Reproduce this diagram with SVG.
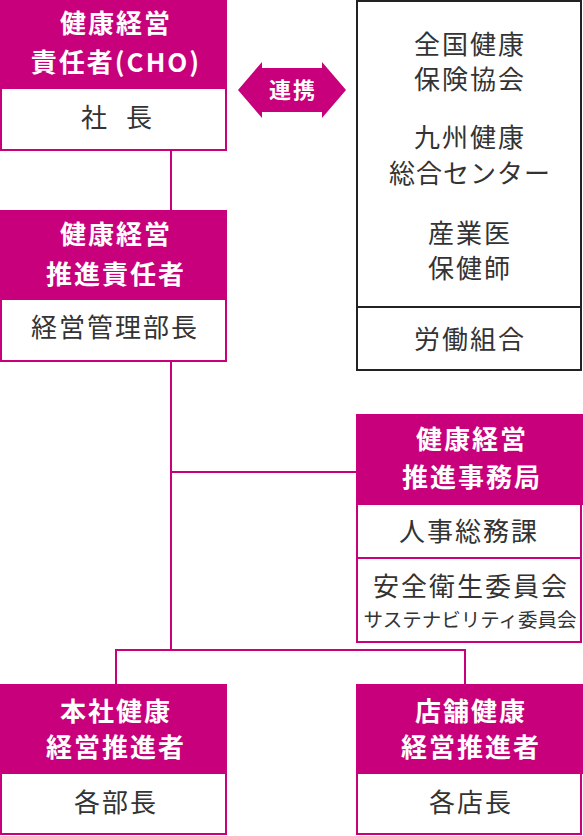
<svg xmlns="http://www.w3.org/2000/svg" width="583" height="836" viewBox="0 0 583 836">
<style>
.box{fill:#fff;stroke:#C8007B;stroke-width:2}
.hd{fill:#C8007B}
.ht{font-family:"Noto Sans CJK JP","Noto Sans",sans-serif;font-weight:bold;font-size:26px;fill:#fff;text-anchor:middle;letter-spacing:2px}
.bt{font-family:"Noto Sans CJK JP","Noto Sans",sans-serif;font-size:26px;fill:#333;text-anchor:middle;letter-spacing:2px}
.ln{stroke:#C8007B;stroke-width:2;fill:none}
</style>
<rect width="583" height="836" fill="#fff"/>
<g id="connectors">
<line class="ln" x1="171" y1="150" x2="171" y2="211"/>
<line class="ln" x1="171" y1="361" x2="171" y2="650"/>
<line class="ln" x1="170" y1="472" x2="357" y2="472"/>
<line class="ln" x1="115" y1="650" x2="466" y2="650"/>
<line class="ln" x1="116" y1="649" x2="116" y2="685"/>
<line class="ln" x1="465" y1="649" x2="465" y2="685"/>
</g>
<g id="cho">
<rect class="box" x="1" y="1" width="225" height="149"/>
<rect class="hd" x="0" y="0" width="227" height="89"/>
<text class="ht" x="116" y="33">健康経営</text>
<text class="ht" x="116" y="72">責任者(CHO)</text>
<text class="bt" y="127" style="letter-spacing:0"><tspan x="94">社</tspan><tspan x="139">長</tspan></text>
</g>
<g id="renkei">
<polygon fill="#C8007B" points="238,90 262,62 262,68 322,68 322,62 346,90 322,118 322,112 262,112 262,118"/>
<text class="ht" x="293" y="98" style="font-size:22px">連携</text>
</g>
<g id="partners">
<rect x="357" y="1" width="224" height="369" fill="#fff" stroke="#222" stroke-width="2"/>
<line x1="357" y1="307" x2="581" y2="307" stroke="#222" stroke-width="2"/>
<text class="bt" x="470" y="54">全国健康</text>
<text class="bt" x="470" y="89">保険協会</text>
<text class="bt" x="470" y="147">九州健康</text>
<text class="bt" x="470" y="183" style="letter-spacing:1px">総合センター</text>
<text class="bt" x="470" y="243">産業医</text>
<text class="bt" x="470" y="278">保健師</text>
<text class="bt" x="470" y="349">労働組合</text>
</g>
<g id="suishin">
<rect class="box" x="1" y="211" width="225" height="150"/>
<rect class="hd" x="0" y="210" width="227" height="90"/>
<text class="ht" x="116" y="244">健康経営</text>
<text class="ht" x="116" y="284">推進責任者</text>
<text class="bt" x="115" y="337">経営管理部長</text>
</g>
<g id="jimukyoku">
<rect class="box" x="357" y="415" width="224" height="227"/>
<rect class="hd" x="356" y="414" width="227" height="91"/>
<line class="ln" x1="357" y1="558" x2="581" y2="558"/>
<text class="ht" x="472" y="449">健康経営</text>
<text class="ht" x="472" y="487">推進事務局</text>
<text class="bt" x="469" y="541">人事総務課</text>
<text class="bt" x="471" y="596">安全衛生委員会</text>
<text class="bt" x="470" y="627" style="font-size:19.5px;letter-spacing:0">サステナビリティ委員会</text>
</g>
<g id="honsha">
<rect class="box" x="1" y="685" width="225" height="149"/>
<rect class="hd" x="0" y="684" width="227" height="90"/>
<text class="ht" x="116" y="721">本社健康</text>
<text class="ht" x="116" y="757">経営推進者</text>
<text class="bt" x="116" y="812">各部長</text>
</g>
<g id="tenpo">
<rect class="box" x="357" y="685" width="224" height="149"/>
<rect class="hd" x="356" y="684" width="227" height="90"/>
<text class="ht" x="471" y="721">店舗健康</text>
<text class="ht" x="471" y="757">経営推進者</text>
<text class="bt" x="471" y="812">各店長</text>
</g>
</svg>
